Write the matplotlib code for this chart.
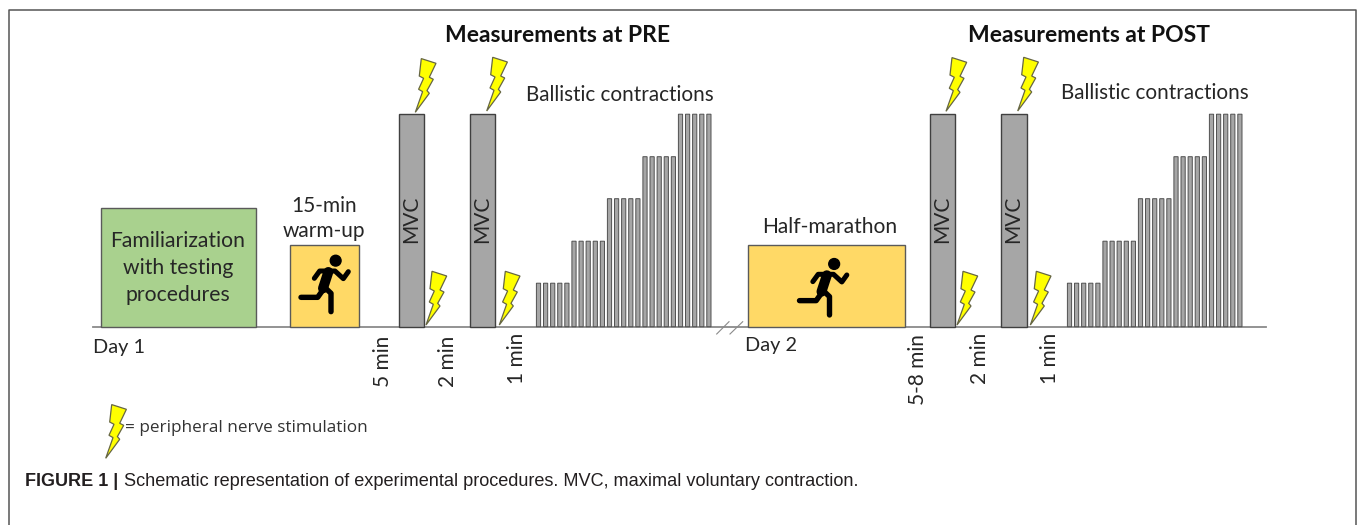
import matplotlib
matplotlib.use("Agg")
import matplotlib.pyplot as plt
from matplotlib.patches import Polygon, Circle

# ---- data (in image pixels) ----
baseline_y = 326.7
blocks_x = [100.7, 289.7, 748.3]
blocks_w = [155.3, 69.0, 156.4]
blocks_h = [118.4, 81.4, 81.7]
blocks_col = ["#a9d18e", "#ffd966", "#ffd966"]
mvc_x = [399.0, 469.7, 930.0, 1001.0]
mvc_w = [24.7, 25.6, 24.7, 25.7]
mvc_h = [212.5, 212.5, 212.5, 212.5]
ballistic_heights = [43.5, 43.5, 43.5, 43.5, 43.5,
                     85.5, 85.5, 85.5, 85.5, 85.5,
                     128.0, 128.0, 128.0, 128.0, 128.0,
                     170.0, 170.0, 170.0, 170.0, 170.0,
                     212.5, 212.5, 212.5, 212.5, 212.5]
ballistic_slots = list(range(25))
ballistic_start = [536.4, 1067.4]
ballistic_pitch = 7.1
ballistic_w = 4.2
bolt_tips = [(415.3, 112.3), (486.7, 111.0), (426.0, 325.0), (499.3, 325.0),
             (946.0, 111.3), (1017.7, 111.0), (957.0, 325.0), (1030.3, 325.0),
             (105.7, 458.3)]
runner_offsets = [(0, 0), (498.5, 3.3)]

TXT = "#262626"
fig = plt.figure(figsize=(13.57, 5.25), dpi=100, facecolor="white")
ax = fig.add_axes([0, 0, 1, 1])
ax.set_xlim(0, 1357)
ax.set_ylim(525, 0)
ax.axis("off")

# frame
ax.plot([8.5, 8.5, 1355.7, 1355.7], [525, 9.5, 9.5, 525], color="#555555", lw=1.1, zorder=1)

# baseline and break marks
ax.plot([93, 1266], [baseline_y, baseline_y], color="#8a8a8a", lw=1.3, zorder=2)
ax.plot([716.7, 729], [334, 321.7], color="#8a8a8a", lw=0.8, zorder=2)
ax.plot([730, 742.7], [334, 321.7], color="#8a8a8a", lw=0.8, zorder=2)

# blocks
ax.bar(blocks_x, [-h for h in blocks_h], width=blocks_w, bottom=baseline_y, align="edge",
       color=blocks_col, edgecolor="#5a5a5a", linewidth=1.0, zorder=3)
# MVC
ax.bar(mvc_x, [-h for h in mvc_h], width=mvc_w, bottom=baseline_y, align="edge",
       color="#a6a6a6", edgecolor="#404040", linewidth=1.0, zorder=3)
# ballistic
for start in ballistic_start:
    xs = [start + s * ballistic_pitch for s in ballistic_slots]
    bars = ax.bar(xs, [-h for h in ballistic_heights], width=ballistic_w, bottom=baseline_y, align="edge",
                  color="#a6a6a6", edgecolor="#505050", linewidth=0.7, zorder=3)
    for b in bars:
        b.set_snap(False)

# lightning bolts
bolt = [(0, 0), (7.3, -20.7), (3.3, -23), (8.3, -34), (4, -36.3), (6, -53.7),
        (20.7, -49), (14, -35), (18, -33), (11.7, -21.7), (14, -19)]
for tx, ty in bolt_tips:
    ax.add_patch(Polygon([(tx + a, ty + b) for a, b in bolt], closed=True, facecolor="#ffff00",
                         edgecolor="#666644", linewidth=0.9, joinstyle="miter", zorder=5))

# runner figures
px = 72 / 100
for ox, oy in runner_offsets:
    def P(pts):
        return [ox + 295 + x / 3 for x, y in pts], [oy + 250 + y / 3 for x, y in pts]
    ax.add_patch(Circle((ox + 295 + 122 / 3, oy + 250 + 32 / 3), 5.4, color="black", zorder=6))
    for pts, w in [([(58, 85), (74, 63), (120, 63), (145, 86), (160, 65)], 5.0),
                   ([(100, 66), (84, 115)], 10.0),
                   ([(85, 108), (108, 130), (108, 185)], 5.4),
                   ([(85, 118), (68, 142), (18, 142)], 5.4)]:
        xs, ys = P(pts)
        ax.plot(xs, ys, color="black", lw=w * px, solid_capstyle="round", solid_joinstyle="round", zorder=6)

FONT = "Lato"
def T(x, y, s, size=15, **kw):
    kw.setdefault("ha", "center")
    kw.setdefault("va", "center")
    kw.setdefault("color", TXT)
    kw.setdefault("family", FONT)
    ax.text(x, y, s, fontsize=size, zorder=7, **kw)

T(558, 36, "Measurements at PRE", 16.5, weight="bold", color="#111111")
T(1089, 36, "Measurements at POST", 16.5, weight="bold", color="#111111")
T(619.5, 95, "Ballistic contractions", 14.9)
T(1154.5, 93, "Ballistic contractions", 14.9)
T(178, 241, "Familiarization", 15.2)
T(178, 268, "with testing", 15.2)
T(178, 295, "procedures", 15.2)
T(324, 206, "15-min", 15)
T(324, 231, "warm-up", 15)
T(830, 227, "Half-marathon", 15.1)
T(119, 348, "Day 1", 14.3)
T(771, 346, "Day 2", 14.3)
for x in (411, 482, 942, 1013):
    T(x, 219, "MVC", 15, rotation=90)
for x, y, s in [(383, 387, "5 min"), (448, 387, "2 min"), (517, 384, "1 min"),
                (918, 405, "5-8 min"), (980, 384, "2 min"), (1050, 384, "1 min")]:
    T(x, y, s, 15, rotation=90, va="bottom")
T(125, 428, "= peripheral nerve stimulation", 12.3, ha="left", family="Open Sans", color="#333333")
T(25, 482, "FIGURE 1 |", 13, ha="left", family="Liberation Sans", weight="bold", color="#231f20")
T(124, 482, "Schematic representation of experimental procedures. MVC, maximal voluntary contraction.",
  13.05, ha="left", family="Liberation Sans", color="#231f20")

fig.savefig("out.png", dpi=100, facecolor="white")
